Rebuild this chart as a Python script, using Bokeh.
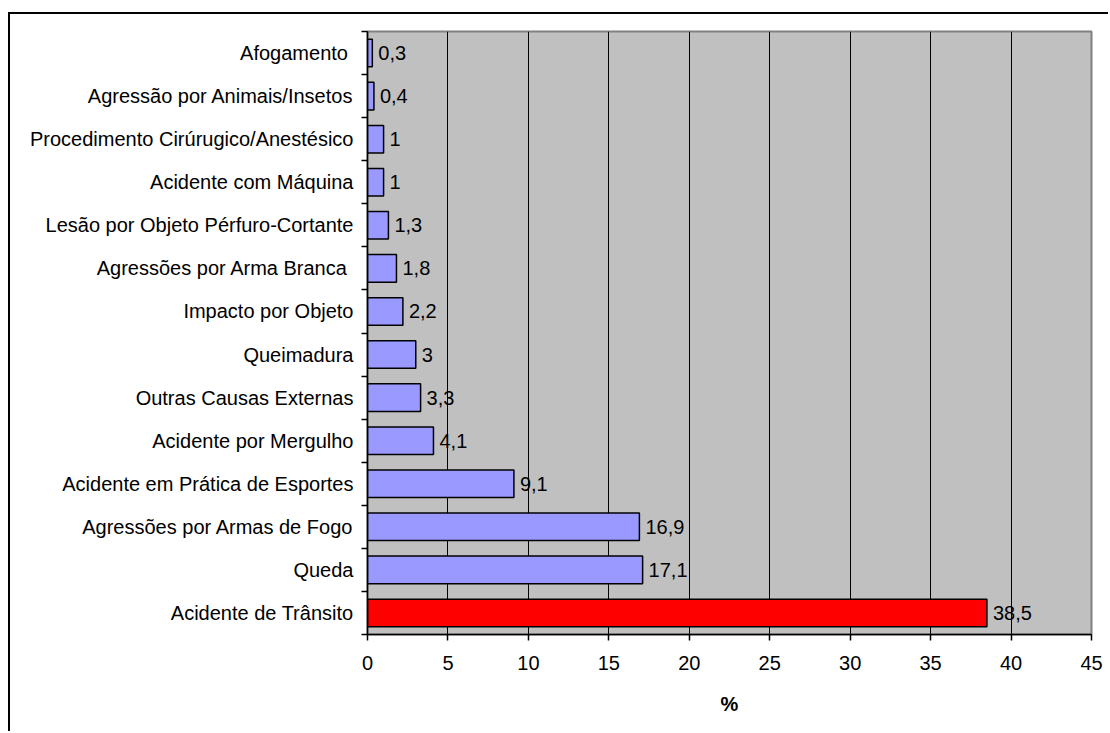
from bokeh.plotting import figure
from bokeh.models import Range1d, FixedTicker, ColumnDataSource, LabelSet
from bokeh.core.properties import value
from bokeh.embed import file_html
from bokeh.resources import INLINE

categories = [
    "Afogamento ",
    "Agressão por Animais/Insetos",
    "Procedimento Cirúrugico/Anestésico",
    "Acidente com Máquina",
    "Lesão por Objeto Pérfuro-Cortante",
    "Agressões por Arma Branca ",
    "Impacto por Objeto",
    "Queimadura",
    "Outras Causas Externas",
    "Acidente por Mergulho",
    "Acidente em Prática de Esportes",
    "Agressões por Armas de Fogo",
    "Queda",
    "Acidente de Trânsito",
]
values = [0.3, 0.4, 1, 1, 1.3, 1.8, 2.2, 3, 3.3, 4.1, 9.1, 16.9, 17.1, 38.5]
highlight = "Acidente de Trânsito"
x_ticks = [0, 5, 10, 15, 20, 25, 30, 35, 40, 45]
x_label = "%"

FONT = "Liberation Sans"
FS = "20px"

n = len(categories)
ypos = [n - i for i in range(n)]
colors = ["#FF0000" if c == highlight else "#9999FF" for c in categories]
labels = [f"{v:g}".replace(".", ",") for v in values]

src = ColumnDataSource(dict(y=ypos, v=values, c=colors, lab=labels))

p = figure(width=1100, height=719, output_backend="svg", toolbar_location=None,
           x_range=Range1d(0, 45), y_range=Range1d(0.5, n + 0.5),
           min_border_left=357, min_border_right=19, min_border_top=17, min_border_bottom=99)
p.styles = {"border-top": "2px solid black", "border-left": "2px solid black",
            "margin-top": "12px", "margin-left": "8px"}

p.background_fill_color = "#C0C0C0"
p.border_fill_color = "white"
p.outline_line_color = "#808080"
p.outline_line_width = 2

p.hbar(y="y", left=0, right="v", height=0.64, fill_color="c", line_color="black",
       line_width=1.5, source=src)
p.add_layout(LabelSet(x="v", y="y", text="lab", source=src, x_offset=6,
                      text_baseline="middle", text_font=value(FONT), text_font_size=value(FS),
                      text_color="black"))

# x axis
p.xaxis.ticker = FixedTicker(ticks=x_ticks)
p.xaxis.axis_label = x_label
p.xaxis.axis_label_text_font = FONT
p.xaxis.axis_label_text_font_style = "bold"
p.xaxis.axis_label_text_font_size = FS
p.xaxis.axis_label_text_color = "black"
p.xaxis.axis_label_standoff = 20
p.xaxis.major_label_text_font = FONT
p.xaxis.major_label_text_font_size = FS
p.xaxis.major_label_text_color = "black"
p.xaxis.major_label_standoff = 15
p.xaxis.major_tick_in = 0
p.xaxis.major_tick_out = 6
p.xaxis.minor_tick_line_color = None
p.xaxis.axis_line_width = 1.5
p.xaxis.axis_line_color = "black"
p.xaxis.major_tick_line_width = 1.5
p.xaxis.major_tick_line_color = "black"

# y axis: labels at centers, ticks at boundaries
p.yaxis.ticker = FixedTicker(ticks=ypos, minor_ticks=[k + 0.5 for k in range(n + 1)])
p.yaxis.major_label_overrides = {y: c for y, c in zip(ypos, categories)}
p.yaxis.major_tick_line_color = None
p.yaxis.major_label_standoff = 8
p.yaxis.major_label_text_font = FONT
p.yaxis.major_label_text_font_size = FS
p.yaxis.major_label_text_color = "black"
p.yaxis.minor_tick_in = 0
p.yaxis.minor_tick_out = 6
p.yaxis.minor_tick_line_width = 1.5
p.yaxis.minor_tick_line_color = "black"
p.yaxis.axis_line_width = 1.5
p.yaxis.axis_line_color = "black"

p.xgrid.grid_line_color = "black"
p.xgrid.grid_line_width = 1
p.ygrid.grid_line_color = None

open("out.html", "w").write(file_html(p, INLINE))
